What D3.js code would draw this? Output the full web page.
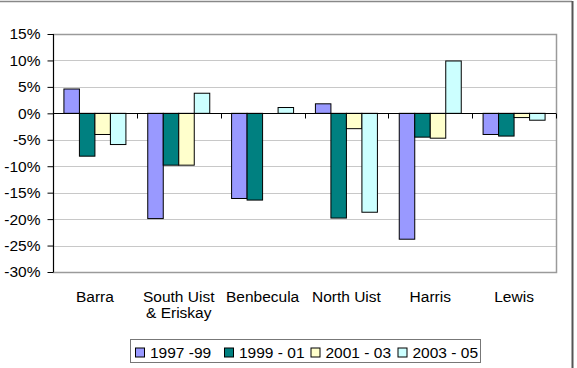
<!DOCTYPE html>
<html>
<head>
<meta charset="utf-8">
<script src="https://cdn.jsdelivr.net/npm/d3@7"></script>
<style>
  body { margin: 0; background: #fff; }
  svg { display: block; font-family: "Liberation Sans", Arial, sans-serif; }
</style>
</head>
<body>
<svg width="577" height="368"></svg>
<script>
// islands and the four periods
const islands = [["Barra"], ["South Uist", "& Eriskay"], ["Benbecula"], ["North Uist"], ["Harris"], ["Lewis"]];
const periods = ["1997 -99", "1999 - 01", "2001 - 03", "2003 - 05"];
const colours = ["#9999ff", "#008080", "#ffffcc", "#ccffff"];

// percent change, one array per period (island order as above)
const v1997 = [4.6, -19.9, -16.1, 1.8, -23.8, -4.0];
const v1999 = [-8.1, -9.8, -16.4, -19.8, -4.5, -4.3];
const v2001 = [-4.0, -9.8, 0.0, -2.9, -4.7, -0.8];
const v2003 = [-5.9, 3.8, 1.1, -18.7, 9.9, -1.3];
const series = [v1997, v1999, v2001, v2003];

const yTicks = [15, 10, 5, 0, -5, -10, -15, -20, -25, -30];

function render_chart()
{
    let svg = d3.select("svg");
    let plot = {left: 53, right: 556, top: 34, bottom: 272};
    let fs = 15.5;

    // outer chart frame (top and right edges only are visible)
    svg.append("line")
        .attr("x1", 0).attr("x2", 572).attr("y1", 1.5).attr("y2", 1.5)
        .attr("stroke", "#888").attr("stroke-width", 1.5);
    svg.append("line")
        .attr("x1", 572.5).attr("x2", 572.5).attr("y1", 1).attr("y2", 368)
        .attr("stroke", "#555").attr("stroke-width", 2);

    let y = d3.scaleLinear().domain([-30, 15]).range([plot.bottom, plot.top]);
    let x0 = d3.scaleBand().domain(d3.range(islands.length)).range([plot.left, plot.right]);
    let bw = 15.5;
    let x1 = d3.scaleBand().domain(d3.range(periods.length))
        .range([0, bw * periods.length]);
    let inset = (x0.bandwidth() - bw * periods.length) / 2;

    // gridlines
    svg.append("g")
        .selectAll("line")
        .data(yTicks)
        .join("line")
            .attr("x1", plot.left).attr("x2", plot.right)
            .attr("y1", d => Math.round(y(d)) + 0.5).attr("y2", d => Math.round(y(d)) + 0.5)
            .attr("stroke", "#c8c8c8");

    // plot area border
    svg.append("rect")
        .attr("x", plot.left + 0.5).attr("y", Math.round(y(15)) + 0.5)
        .attr("width", plot.right - plot.left).attr("height", Math.round(y(-30)) - Math.round(y(15)))
        .attr("fill", "none").attr("stroke", "#9a9a9a").attr("stroke-width", 1.5);

    // bars
    const groups = svg.append("g")
        .selectAll("g")
        .data(islands.map((name, i) => series.map((s, k) => ({i, k, v: s[i]}))))
        .join("g")
            .attr("transform", (d, i) => `translate(${x0(i) + inset},0)`);
    groups.selectAll("rect")
        .data(d => d.filter(e => e.v !== 0))
        .join("rect")
            .attr("x", d => x1(d.k))
            .attr("width", bw)
            .attr("y", d => y(Math.max(0, d.v)))
            .attr("height", d => Math.abs(y(d.v) - y(0)))
            .attr("fill", d => colours[d.k])
            .attr("stroke", "#000")
            .attr("stroke-width", 1);

    // y axis
    let yAxis = svg.append("g")
        .attr("transform", `translate(${plot.left + 0.5},0)`)
        .call(d3.axisLeft(y).tickValues(yTicks).tickSize(6).tickPadding(7).tickFormat(d => d + "%"));
    yAxis.attr("font-family", null).attr("font-size", null);
    yAxis.select(".domain").attr("stroke", "#000").attr("d", `M0,${y(15)}V${y(-30)}`);
    yAxis.selectAll(".tick line").attr("stroke", "#000");
    yAxis.selectAll("text").attr("font-size", fs).attr("fill", "#000");

    // zero axis with category ticks
    let zy = Math.round(y(0)) + 0.5;
    svg.append("line")
        .attr("x1", plot.left).attr("x2", plot.right)
        .attr("y1", zy).attr("y2", zy)
        .attr("stroke", "#000");
    svg.append("g")
        .selectAll("line")
        .data(d3.range(1, islands.length + 1))
        .join("line")
            .attr("x1", d => Math.round(x0(0) + d * x0.step()) + 0.5)
            .attr("x2", d => Math.round(x0(0) + d * x0.step()) + 0.5)
            .attr("y1", zy).attr("y2", zy + 5)
            .attr("stroke", "#000");

    // category labels
    svg.append("g")
        .attr("font-size", fs)
        .attr("text-anchor", "middle")
        .selectAll("text")
        .data(islands)
        .join("text")
            .attr("x", (d, i) => x0(i) + x0.bandwidth() / 2)
            .attr("y", 302)
            .each(function(d) {
                d3.select(this).selectAll("tspan")
                    .data(d)
                    .join("tspan")
                        .attr("x", d3.select(this).attr("x"))
                        .attr("dy", (t, j) => j ? 15.5 : 0)
                        .text(t => t);
            });

    // legend
    let legend = svg.append("g");
    legend.append("rect")
        .attr("x", 130.5).attr("y", 339.5).attr("width", 350).attr("height", 23)
        .attr("fill", "#fff").attr("stroke", "#777");
    let lx = [135, 224, 310.5, 397.5];
    let items = legend.selectAll("g")
        .data(periods)
        .join("g")
            .attr("transform", (d, i) => `translate(${lx[i]},347.5)`);
    items.append("rect")
        .attr("x", 0.5).attr("y", 0.5).attr("width", 9).attr("height", 9)
        .attr("fill", (d, i) => colours[i]).attr("stroke", "#000");
    items.append("text")
        .attr("x", 15).attr("y", 10)
        .attr("font-size", fs)
        .text(d => d);
}

render_chart();
</script>
</body>
</html>
